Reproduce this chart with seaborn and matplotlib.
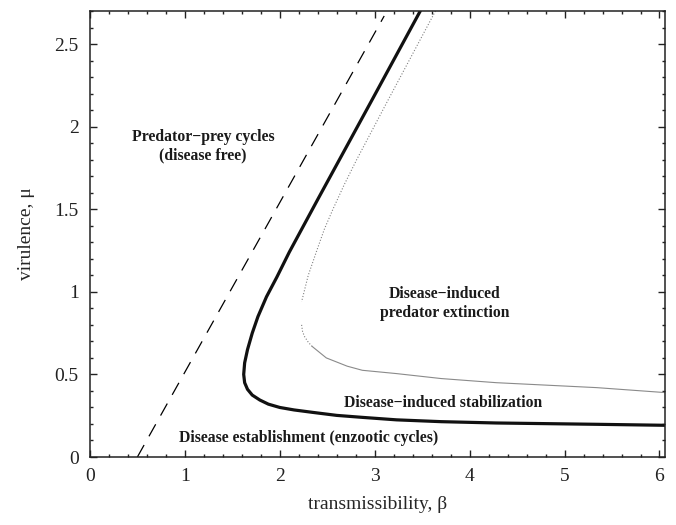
import seaborn as sns
import matplotlib.pyplot as plt
from matplotlib.ticker import MultipleLocator

# boundary curves (beta, mu)
beta_dash = [0.50, 3.10]
mu_dash = [0.00, 2.67]

beta_thick = [3.48, 2.97, 2.41, 2.10, 1.97, 1.86, 1.77, 1.71, 1.66, 1.63, 1.62,
              1.63, 1.66, 1.71, 1.79, 1.88, 2.00, 2.15, 2.35, 2.60, 2.87, 3.23,
              3.70, 4.28, 5.34, 6.06]
mu_thick = [2.70, 2.16, 1.57, 1.24, 1.09, 0.97, 0.85, 0.75, 0.65, 0.57, 0.50,
            0.45, 0.41, 0.375, 0.345, 0.32, 0.30, 0.285, 0.27, 0.252, 0.24, 0.225,
            0.214, 0.206, 0.198, 0.192]

beta_thin_dot = [3.64, 3.14, 2.81, 2.68, 2.56, 2.47, 2.39, 2.30, 2.23]
mu_thin_dot = [2.70, 2.16, 1.80, 1.65, 1.50, 1.38, 1.25, 1.10, 0.94]
beta_thin_dot2 = [2.23, 2.24, 2.26, 2.30, 2.34]
mu_thin_dot2 = [0.80, 0.76, 0.73, 0.695, 0.67]
beta_thin = [2.34, 2.49, 2.71, 2.87, 3.23, 3.70, 4.28, 5.34, 6.06]
mu_thin = [0.67, 0.60, 0.55, 0.525, 0.505, 0.475, 0.45, 0.42, 0.39]

# region labels
labels = ["Predator\u2212prey cycles\n(disease free)",
          "Disease\u2212induced\npredator extinction",
          "Disease\u2212induced stabilization",
          "Disease establishment (enzootic cycles)"]
label_beta = [1.19, 3.74, 3.72, 2.30]
label_mu = [1.88, 0.93, 0.33, 0.115]

sns.set_theme(style="ticks")
plt.rcParams['font.family'] = ['Liberation Serif', 'DejaVu Serif']

fig = plt.figure(figsize=(6.76, 5.25), dpi=100)
ax = fig.add_axes([0.133, 0.1295, 0.851, 0.8495])

# estimator=None so repeated beta values are drawn as-is, not averaged
kw = dict(sort=False, estimator=None, errorbar=None, ax=ax)
sns.lineplot(x=beta_dash, y=mu_dash, color="black", lw=0.9, **kw)
ax.lines[-1].set_dashes([11, 8])
sns.lineplot(x=beta_thick, y=mu_thick, color="#111111", lw=2.3, **kw)
sns.lineplot(x=beta_thin_dot, y=mu_thin_dot, color="#808080", lw=0.8,
             linestyle=":", **kw)
sns.lineplot(x=beta_thin_dot2, y=mu_thin_dot2, color="#808080", lw=0.8,
             linestyle=":", **kw)
sns.lineplot(x=beta_thin, y=mu_thin, color="#8a8a8a", lw=0.8, **kw)

for txt, bx, my in zip(labels, label_beta, label_mu):
    ax.text(bx, my, txt, ha="center", va="center", fontsize=11.3,
            fontweight="bold", color="#1a1a1a", linespacing=1.2)

ax.set_xlim(0, 6.06)
ax.set_ylim(0, 2.70)
ax.xaxis.set_major_locator(MultipleLocator(1))
ax.xaxis.set_minor_locator(MultipleLocator(0.2))
ax.yaxis.set_major_locator(MultipleLocator(0.5))
ax.yaxis.set_minor_locator(MultipleLocator(0.1))
ax.set_xticklabels([f"{v:g}" for v in ax.get_xticks()])
ax.set_yticks([0, 0.5, 1, 1.5, 2, 2.5])
ax.set_yticklabels(["0", "0.5", "1", "1.5", "2", "2.5"])
ax.tick_params(which="both", direction="in", top=True, right=True,
               labelsize=14, colors="#222222", width=1)
ax.tick_params(which="major", length=5, pad=8)
ax.tick_params(which="minor", length=2.5)
for s in ax.spines.values():
    s.set_linewidth(1.1)
    s.set_color("#222222")

ax.set_xlabel("transmissibility, \u03b2", fontsize=14, labelpad=8)
ax.set_ylabel("virulence, \u03bc", fontsize=14, labelpad=14)

fig.savefig("out.png", dpi=100)
